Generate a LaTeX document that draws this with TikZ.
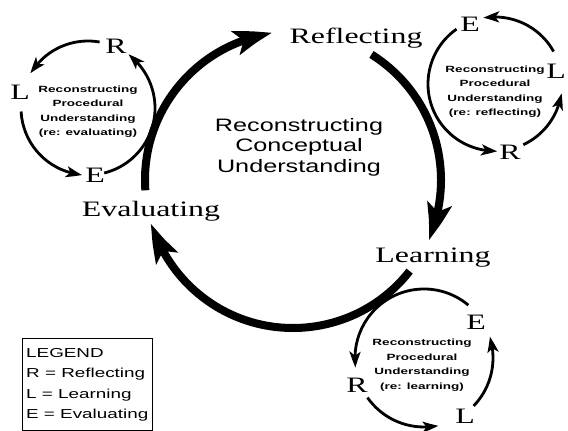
\documentclass[tikz,border=0pt]{standalone}
\usepackage{fontspec}
\usepackage{graphicx}
\setmainfont{Liberation Serif}
\newfontfamily\labfont[FakeStretch=1.45]{Liberation Serif}
\newfontfamily\ctrfont[FakeStretch=1.4]{Liberation Sans}
\newfontfamily\innerfont{Liberation Sans Bold}
\newfontfamily\legfont[FakeStretch=1.45]{Liberation Sans}
\newcommand\innerblock[1]{\scalebox{1.5}[1]{\begin{tabular}{@{}c@{}}#1\end{tabular}}}
\usetikzlibrary{arrows.meta,bending,calc}
\begin{document}
\begin{tikzpicture}[x=1pt,y=1pt,
  lab/.style={font=\labfont\fontsize{22}{24}\selectfont, inner sep=0pt},
  ltr/.style={font=\labfont\fontsize{22}{24}\selectfont, inner sep=0pt},
  bigarc/.style={line width=8pt, -{Stealth[length=38pt,width=24pt,inset=8pt,bend]}},
  smlarc/.style={line width=2.8pt, -{Stealth[length=16pt,width=11pt,inset=4pt,bend]}},
  innertxt/.style={font=\innerfont\fontsize{9}{14.5}\selectfont, align=center, inner sep=0pt},
 ]
\useasboundingbox (0,0) rectangle (568,431);

% ---------- main cycle ----------
\coordinate (C) at (293,251);
\node[lab] (refl) at (356,393) {Reflecting};
\node[lab] (learn) at (433,173) {Learning};
\node[lab] (eval) at (151,220) {Evaluating};
\node[font=\ctrfont\fontsize{18}{20.5}\selectfont, align=center, inner sep=0pt] (ctr) at (299,284)
  {Reconstructing\\Conceptual\\Understanding};
\coordinate (m1) at ($(C)+(184:148)$);
\coordinate (m2) at ($(C)+(58:148)$);
\coordinate (m3) at ($(C)+(-38:148)$);
\draw[bigarc] (m1) arc[start angle=184, end angle=98, radius=148];
\draw[bigarc] (m2) arc[start angle=58, end angle=-24, radius=148];
\draw[bigarc] (m3) arc[start angle=-38, end angle=-163, radius=148];

% ---------- top-left cycle ----------
\coordinate (A) at (88,323);
\node[ltr] (aR) at (116,385) {R};
\node[ltr] (aL) at (20,339) {L};
\node[ltr] (aE) at (95,256) {E};
\node[innertxt] (atxt) at (88,320) {\innerblock{Reconstructing\\Procedural\\Understanding\\(re: evaluating)}};
\coordinate (a1) at ($(A)+(80:67)$);
\coordinate (a2) at ($(A)+(183:67)$);
\coordinate (a3) at ($(A)+(284:67)$);
\draw[smlarc] (a1) arc[start angle=80, end angle=149, radius=67];
\draw[smlarc] (a2) arc[start angle=183, end angle=265, radius=67];
\draw[smlarc] (a3) arc[start angle=284, end angle=413, radius=67];

% ---------- top-right cycle ----------
\coordinate (B) at (495,347);
\node[ltr] (bE) at (470,407) {E};
\node[ltr] (bL) at (556,360) {L};
\node[ltr] (bR) at (510,279) {R};
\node[innertxt] (btxt) at (495,340) {\innerblock{Reconstructing\\Procedural\\Understanding\\(re: reflecting)}};
\coordinate (b1) at ($(B)+(125:67)$);
\coordinate (b2) at ($(B)+(295:67)$);
\coordinate (b3) at ($(B)+(29:67)$);
\draw[smlarc] (b1) arc[start angle=125, end angle=272, radius=67];
\draw[smlarc] (b2) arc[start angle=295, end angle=352, radius=67];
\draw[smlarc] (b3) arc[start angle=29, end angle=100, radius=67];

% ---------- bottom-right cycle ----------
\coordinate (D) at (424,73);
\node[ltr] (dE) at (476,109) {E};
\node[ltr] (dR) at (357,46) {R};
\node[ltr] (dL) at (465,15) {L};
\node[innertxt] (dtxt) at (422,66.5) {\innerblock{Reconstructing\\Procedural\\Understanding\\(re: learning)}};
\coordinate (d1) at ($(D)+(50:69)$);
\coordinate (d2) at ($(D)+(215:69)$);
\coordinate (d3) at ($(D)+(316:69)$);
\draw[smlarc] (d1) arc[start angle=50, end angle=188, radius=69];
\draw[smlarc] (d2) arc[start angle=215, end angle=282, radius=69];
\draw[smlarc] (d3) arc[start angle=316, end angle=378, radius=69];

% ---------- legend ----------
\node[draw, line width=1.4pt, anchor=north west, minimum width=130pt, minimum height=92pt,
      inner sep=0pt] (legbox) at (22,93) {};
\node[anchor=north west, align=left, inner sep=0pt,
      font=\legfont\fontsize{13}{20.5}\selectfont] (legend) at (26,83)
  {LEGEND\\R = Reflecting\\L = Learning\\E = Evaluating};
\end{tikzpicture}
\end{document}
